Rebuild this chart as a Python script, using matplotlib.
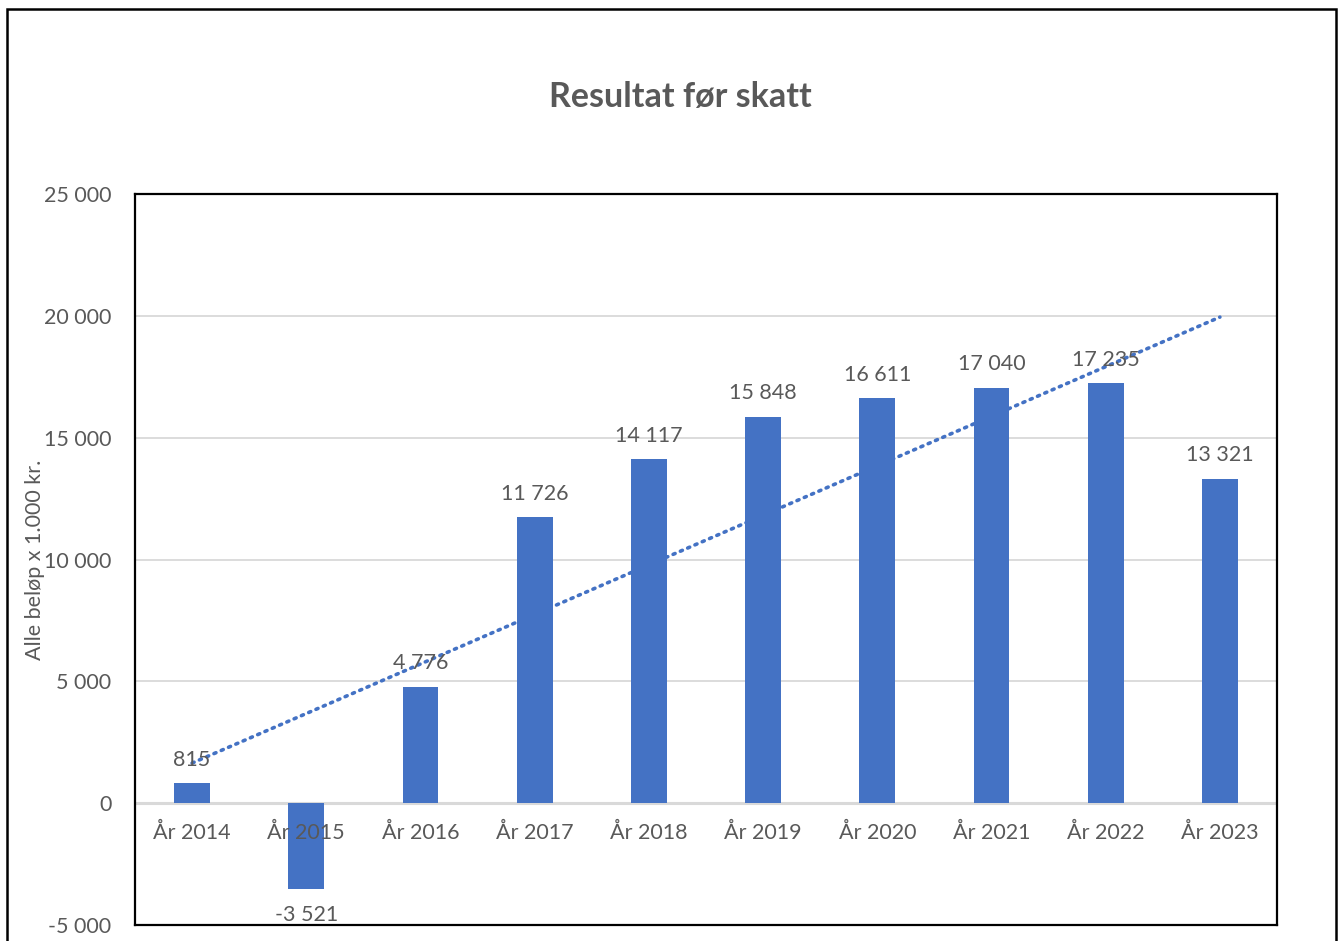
import matplotlib
matplotlib.use("Agg")
import matplotlib.pyplot as plt
from matplotlib.patches import Rectangle
import numpy as np

# data
years = ["År 2014", "År 2015", "År 2016", "År 2017", "År 2018",
         "År 2019", "År 2020", "År 2021", "År 2022", "År 2023"]
resultat = [815, -3521, 4776, 11726, 14117, 15848, 16611, 17040, 17235, 13321]
yticks = [-5000, 0, 5000, 10000, 15000, 20000, 25000]

blue = "#4472C4"
txt = "#595959"
grid = "#D9D9D9"

plt.rcParams["font.family"] = ["Lato", "DejaVu Sans"]
FS = 15.5


def fmt(v):
    return f"{v:,}".replace(",", " ")


fig = plt.figure(figsize=(13.41, 9.41), dpi=100)
ax = fig.add_axes([135 / 1341, 1 - 925 / 941, (1277 - 135) / 1341, (925 - 194) / 941])

x = np.arange(len(years))
ax.bar(x, resultat, width=0.315, color=blue, zorder=3)

# linear trend line (dotted)
k, m = np.polyfit(x + 1, resultat, 1)
ax.plot(x, k * (x + 1) + m, linestyle=(0, (0.6, 1.6)), color=blue,
        linewidth=2.6, dash_capstyle="round", zorder=4)

ax.set_xlim(-0.5, len(years) - 0.5)
ax.set_ylim(-5000, 25000)
ax.set_yticks(yticks)
ax.set_yticklabels([fmt(v) for v in yticks], fontsize=FS, color=txt)
ax.tick_params(axis="y", length=0, pad=17)
ax.set_xticks([])

for yv in yticks[2:-1]:
    ax.axhline(yv, color=grid, linewidth=1.3, zorder=1)
ax.axhline(0, color=grid, linewidth=2.2, zorder=2)

for sp in ax.spines.values():
    sp.set_color("black")
    sp.set_linewidth(1.6)

# category labels sitting under the zero line
for xi, lab in zip(x, years):
    ax.annotate(lab, (xi, 0), xytext=(0, -21.5), textcoords="offset points",
                ha="center", va="center", fontsize=FS, color=txt, zorder=5)

# data labels
for xi, v in zip(x, resultat):
    off = 17 if v >= 0 else -18.5
    ax.annotate(fmt(v), (xi, v), xytext=(0, off), textcoords="offset points",
                ha="center", va="center", fontsize=FS, color=txt, zorder=5)

ax.set_ylabel("Alle beløp x 1.000 kr.", fontsize=FS, color=txt)
ax.yaxis.set_label_coords(-90 / 1142, 0.5)

fig.text(680 / 1341, 1 - 97 / 941, "Resultat før skatt", ha="center", va="center",
         fontsize=24.5, fontweight="bold", color=txt)

# outer chart border
fig.patches.append(Rectangle((7 / 1341, -0.05), (1336 - 7) / 1341, 1.05 - 9 / 941,
                             transform=fig.transFigure, fill=False,
                             edgecolor="black", linewidth=1.8))

fig.savefig("out.png", dpi=100, facecolor="white")
